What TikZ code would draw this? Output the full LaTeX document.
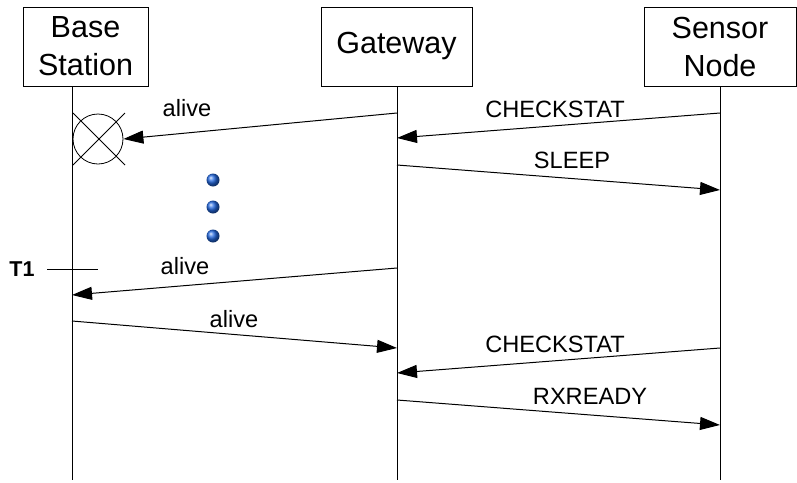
\documentclass[tikz,border=0pt]{standalone}
\usepackage{fontspec}
\setmainfont{Liberation Sans}
\usetikzlibrary{arrows.meta}
\definecolor{dotblue}{RGB}{35,105,225}

\begin{document}
\begin{tikzpicture}
[x=1pt,y=-1pt,%
  every node/.style={inner sep=0pt,font=\fontsize{23.6}{26}\selectfont},%
  actor/.style={draw,line width=0.8pt,minimum height=79pt,align=center,font=\fontsize{30.5}{38}\selectfont},%
  life/.style={line width=1pt},%
  msg/.style={line width=1pt,-{Triangle[length=20pt,width=13pt]}},%
  ball/.style={circle,minimum size=13pt,ball color=dotblue}]
\useasboundingbox (0,0) rectangle (797,482);

% actors and their lifelines
\node[actor,minimum width=125pt] (bs) at (85.5,46.5) {Base\\Station};
\node[actor,minimum width=151pt] (gw) at (396.5,46.5) {Gateway};
\node[actor,minimum width=152pt] (sn) at (720,46.5) {Sensor\\Node};
\coordinate (bsEnd) at (72,480);
\coordinate (gwEnd) at (397,480);
\coordinate (snEnd) at (720,480);
\draw[life] (bsEnd |- bs.south) -- (bsEnd);
\draw[life] (gwEnd |- gw.south) -- (gwEnd);
\draw[life] (snEnd |- sn.south) -- (snEnd);

% lost message
\node[circle,draw,line width=0.8pt,minimum size=50pt] (lost) at (98,139) {};
\draw[line width=0.8pt] (lost.center) ++(-25,-26) -- ++(52,52);
\draw[line width=0.8pt] (lost.center) ++(27,-26) -- ++(-52,52);

% points on the lifelines
\coordinate (gw1) at (397,113);
\coordinate (sn1) at (720,113);
\coordinate (gw2) at (397,138);
\coordinate (gw3) at (397,165);
\coordinate (sn3) at (720,190);
\coordinate (gw4) at (397,268);
\coordinate (bs4) at (72,295);
\coordinate (bs5) at (72,321);
\coordinate (gw5) at (397,348);
\coordinate (sn6) at (720,348);
\coordinate (gw6) at (397,373);
\coordinate (gw7) at (397,400);
\coordinate (sn7) at (720,425);

% messages
\draw[msg] (gw1) -- (lost.east);
\node[anchor=base] (m1) at (187,116) {alive};
\draw[msg] (sn1) -- (gw2);
\node[anchor=base] (m2) at (555,117) {CHECKSTAT};
\draw[msg] (gw3) -- (sn3);
\node[anchor=base] (m3) at (572,168) {SLEEP};
\draw[msg] (gw4) -- (bs4);
\node[anchor=base] (m4) at (185,274) {alive};
\draw[msg] (bs5) -- (gw5);
\node[anchor=base] (m5) at (234,327) {alive};
\draw[msg] (sn6) -- (gw6);
\node[anchor=base] (m6) at (555,352) {CHECKSTAT};
\draw[msg] (gw7) -- (sn7);
\node[anchor=base] (m7) at (590,404) {RXREADY};

% elapsed time
\node[ball] (d1) at (213,180) {};
\node[ball] (d2) at (213,207) {};
\node[ball] (d3) at (213,236) {};
\node[anchor=base,font=\bfseries\fontsize{21.5}{24}\selectfont] (t1) at (22,276) {T1};
\coordinate (t1a) at (47,269);
\coordinate (t1b) at (98,269);
\draw[line width=0.8pt] (t1a) -- (t1b);
\end{tikzpicture}
\end{document}
